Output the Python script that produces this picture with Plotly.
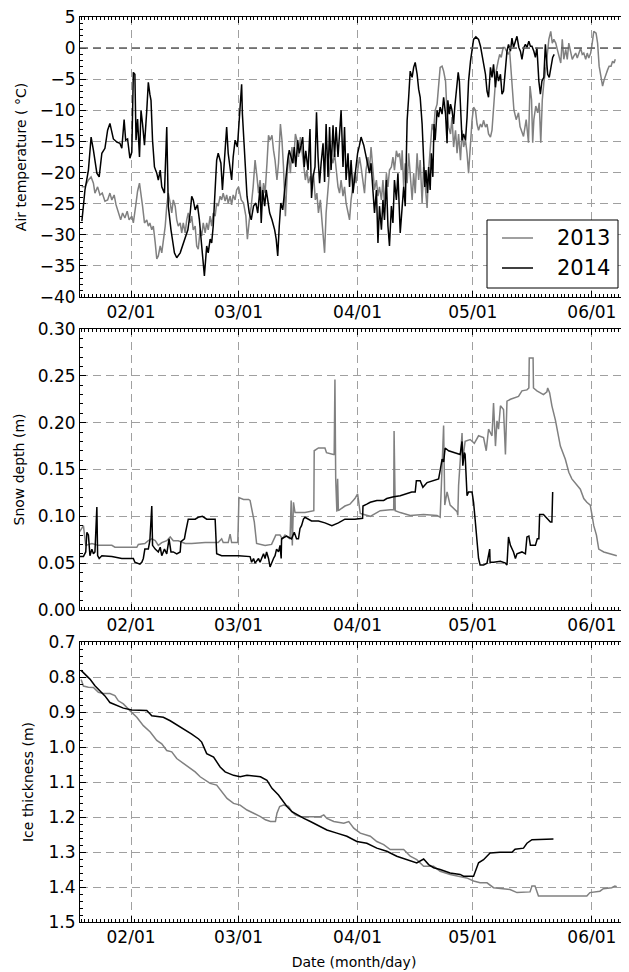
import numpy as np
import pandas as pd
import plotly.graph_objects as go
from plotly.subplots import make_subplots

# x values are day of year (2013 calendar used for both winters)

# ---- air temperature (deg C) ----
air_doy_2013 = [19.15, 20.0, 20.9, 21.6, 22.2, 22.6, 23.3, 23.9, 24.5, 25.2, 25.9, 26.5, 27.0, 27.6, 28.1,
                28.7, 29.3, 29.8, 30.4, 31.0, 31.5, 32.2, 32.6, 33.2, 33.7, 34.2, 34.6, 35.0, 35.5, 36.1,
                36.5, 36.9, 37.4, 37.8, 38.3, 38.7, 39.1, 39.6, 40.0, 40.4, 40.9, 41.3, 41.7, 42.2, 42.6,
                43.0, 43.5, 43.9, 44.3, 44.8, 45.2, 45.6, 46.1, 46.5, 46.9, 47.4, 47.8, 48.2, 48.7, 49.1,
                49.5, 50.0, 50.4, 50.8, 51.3, 51.7, 52.1, 52.6, 53.0, 53.4, 53.9, 54.3, 54.7, 55.2, 55.6,
                56.0, 56.5, 56.9, 57.3, 57.8, 58.2, 58.6, 59.1, 59.5, 60.0, 60.7, 61.3, 61.9, 62.3, 62.8,
                63.3, 63.8, 64.3, 64.8, 65.2, 65.6, 66.1, 66.5, 66.9, 67.4, 67.8, 68.2, 68.7, 69.1, 69.5,
                70.0, 70.4, 70.9, 71.3, 71.7, 72.2, 72.6, 73.0, 73.5, 73.9, 74.3, 74.8, 75.2, 75.6, 76.1,
                76.5, 76.9, 77.4, 77.8, 78.2, 78.7, 79.1, 79.5, 80.0, 80.4, 80.8, 81.3, 81.7, 82.1, 82.4,
                82.8, 83.3, 83.7, 84.1, 84.6, 85.0, 85.4, 85.9, 86.3, 86.7, 87.2, 87.6, 88.0, 88.5, 88.9,
                89.3, 89.8, 90.2, 90.6, 91.1, 91.5, 91.9, 92.4, 92.8, 93.2, 93.7, 94.1, 94.5, 95.0, 95.4,
                95.9, 96.3, 96.7, 97.2, 97.6, 98.0, 98.5, 98.9, 99.3, 99.8, 100.2, 100.6, 101.1, 101.5, 101.9,
                102.4, 102.6, 103.0, 103.4, 103.9, 104.3, 104.7, 105.2, 105.6, 106.0, 106.5, 106.9, 107.3, 107.8,
                108.2, 108.6, 109.1, 109.5, 109.9, 110.4, 110.8, 111.2, 111.7, 112.1, 112.5, 113.0, 113.4, 113.9,
                114.3, 114.7, 115.2, 115.6, 116.0, 116.5, 116.9, 117.3, 117.8, 118.2, 118.6, 119.1, 119.5, 119.9,
                120.4, 120.8, 121.2, 121.7, 122.1, 122.5, 123.0, 123.4, 123.8, 124.3, 124.7, 125.1, 125.6, 126.0,
                126.3, 126.6, 126.9, 127.1, 127.6, 128.0, 128.4, 128.9, 129.3, 129.7, 130.2, 130.6, 131.7, 132.3,
                132.9, 133.3, 134.2, 134.9, 135.5, 135.9, 136.3, 136.6, 136.9, 137.4, 137.9, 138.3, 138.7, 139.1,
                139.5, 140.1, 140.4, 140.8, 141.3, 141.7, 142.1, 142.6, 143.0, 143.4, 143.9, 144.3, 144.7, 145.2,
                145.6, 146.0, 146.5, 146.9, 147.3, 147.8, 148.2, 148.6, 149.1, 149.5, 149.9, 150.4, 150.8, 151.2,
                151.7, 152.1, 152.5, 153.1, 153.5, 153.9, 154.4, 154.8, 155.2, 155.7, 156.1, 156.5, 157.0, 157.4,
                157.8, 158.1]
air_2013 = [-22.3, -22.3, -21.2, -20.7, -21.7, -23.3, -22.3, -23.6, -23.3, -24.6, -24.4, -23.3, -24.4, -23.6, -25.2,
            -26.5, -27.6, -26.5, -27.3, -26.2, -27.6, -27.0, -28.1, -25.4, -23.0, -21.7, -23.3, -25.4, -28.1, -27.6,
            -28.6, -28.1, -29.2, -28.6, -31.3, -33.9, -33.4, -31.8, -32.9, -31.3, -28.6, -25.4, -23.3, -24.9, -26.5,
            -24.4, -25.4, -27.6, -28.6, -28.1, -29.7, -28.1, -29.7, -27.6, -26.5, -28.1, -27.0, -29.2, -28.6, -31.8,
            -32.3, -29.2, -30.2, -28.1, -29.7, -28.1, -29.2, -27.0, -28.6, -26.5, -27.0, -24.9, -25.4, -23.8, -24.4,
            -23.3, -24.6, -23.6, -24.9, -23.8, -25.2, -23.6, -24.4, -22.8, -22.3, -24.4, -24.9, -27.0, -30.7, -27.6,
            -25.4, -22.3, -18.0, -20.7, -23.3, -21.2, -24.4, -21.7, -23.3, -18.5, -14.0, -14.8, -14.0, -16.4, -18.0,
            -21.2, -18.5, -12.2, -14.8, -19.1, -27.0, -21.2, -16.9, -20.1, -15.9, -18.5, -13.8, -14.8, -17.5, -14.3,
            -16.9, -18.5, -21.2, -19.6, -21.7, -20.6, -22.3, -20.1, -24.4, -23.3, -26.5, -24.4, -27.6, -30.7, -32.9,
            -26.5, -22.3, -19.6, -17.5, -18.5, -16.9, -19.6, -22.3, -23.3, -21.2, -23.8, -22.3, -24.9, -26.5, -27.6,
            -24.4, -22.3, -20.1, -21.7, -19.6, -17.5, -19.1, -21.2, -23.3, -19.6, -17.5, -19.6, -15.9, -19.6, -22.8,
            -21.2, -23.8, -22.3, -24.4, -21.2, -25.4, -20.1, -22.3, -19.6, -19.1, -17.5, -19.6, -16.5, -17.5, -16.9,
            -19.6, -16.4, -22.3, -18.5, -21.7, -16.9, -20.7, -24.4, -20.1, -23.3, -16.9, -21.2, -18.0, -24.9,
            -19.1, -22.3, -25.7, -19.6, -16.5, -12.2, -13.2, -10.0, -9.0, -6.3, -3.1, -2.9, -3.7, -5.3,
            -10.6, -12.7, -13.8, -11.1, -15.9, -13.2, -16.9, -13.8, -18.0, -13.2, -15.9, -14.8, -16.9, -20.1,
            -14.8, -11.6, -9.5, -10.0, -12.2, -13.2, -12.2, -12.7, -11.6, -12.7, -12.2, -13.8, -14.3, -13.2,
            -10.6, -7.9, -5.3, -3.7, -2.1, -1.0, -1.5, 0.1, 0.1, -0.5, -1.0, -0.5, -9.9, -11.5,
            -10.4, -12.6, -14.2, -11.5, -15.2, -6.1, -8.3, -15.2, -11.5, -9.3, -10.4, -8.8, -15.2, -8.3,
            -5.6, -2.9, -1.3, 1.4, 2.7, 0.8, 1.4, 0.8, -0.2, -1.3, -2.4, 1.4, -1.8, -0.2,
            -1.8, 0.8, -0.8, -1.8, -1.3, -0.8, -1.6, -0.8, 0.0, -1.0, -0.8, -1.8, -0.8, -1.6,
            -0.8, 0.8, 2.7, 2.4, 0.8, -2.9, -4.5, -6.1, -5.1, -4.0, -3.5, -2.9, -2.9, -2.1,
            -2.4, -1.8]

air_doy_2014 = [19.2, 20.0, 20.9, 21.6, 22.2, 23.1, 23.7, 24.4, 25.2, 25.9, 26.5, 27.4, 28.3, 29.1, 29.6,
                30.2, 30.6, 31.1, 31.7, 32.2, 32.6, 33.0, 33.3, 33.7, 34.2, 34.6, 35.0, 35.5, 36.1, 36.5,
                36.9, 37.2, 37.6, 38.1, 38.7, 39.1, 39.6, 40.0, 40.7, 41.3, 41.7, 42.4, 43.3, 43.9, 44.8,
                45.4, 46.1, 46.8, 47.4, 47.8, 48.2, 48.7, 49.3, 49.8, 50.4, 51.1, 51.7, 52.1, 52.6, 53.0,
                53.4, 53.9, 54.3, 54.7, 55.4, 55.8, 56.3, 56.9, 57.3, 57.8, 58.2, 58.6, 59.1, 59.7, 60.1,
                60.8, 61.0, 61.6, 62.2, 62.8, 63.3, 63.9, 64.5, 65.0, 65.6, 65.9, 66.3, 66.8, 67.2, 67.6,
                68.1, 68.7, 69.4, 69.8, 70.2, 70.6, 71.0, 71.5, 71.9, 72.3, 72.8, 73.2, 73.6, 74.1, 74.5,
                74.9, 75.4, 75.8, 76.2, 76.7, 77.1, 77.5, 78.1, 78.6, 79.0, 79.4, 79.9, 80.3, 80.7, 81.1,
                81.5, 82.0, 82.4, 82.8, 83.3, 83.7, 84.1, 84.6, 85.0, 85.4, 85.9, 86.3, 86.7, 87.2, 87.6,
                88.0, 88.5, 88.9, 89.3, 89.8, 90.4, 91.0, 91.5, 91.9, 92.6, 93.2, 93.7, 94.1, 94.5, 95.0,
                95.4, 95.9, 96.3, 96.7, 97.2, 97.6, 98.0, 98.5, 98.9, 99.3, 99.8, 100.2, 100.6, 101.1, 101.5,
                102.1, 102.6, 103.0, 103.4, 103.9, 104.3, 104.7, 105.2, 105.6, 106.0, 106.5, 106.9, 107.3, 107.8,
                108.2, 108.5, 108.8, 109.2, 109.5, 109.9, 110.2, 110.6, 110.9, 111.2, 111.7, 112.1, 112.5, 113.0,
                113.4, 113.9, 114.3, 114.5, 114.9, 115.2, 115.6, 116.0, 116.3, 116.7, 117.2, 117.5, 117.8, 118.2,
                118.6, 119.1, 119.5, 119.9, 120.4, 120.8, 121.2, 121.8, 122.5, 123.0, 123.4, 123.8, 124.3, 124.7,
                125.1, 125.6, 126.0, 126.4, 126.9, 127.3, 127.7, 128.2, 128.6, 129.0, 129.5, 129.9, 130.3, 130.8,
                131.2, 131.6, 132.1, 132.5, 133.0, 133.4, 133.8, 134.3, 134.7, 135.1, 135.6, 136.0, 136.4, 136.9,
                137.3, 137.7, 138.2, 138.6, 139.0, 139.5, 139.9, 140.2, 140.5, 140.9, 141.4, 141.8, 142.2]
air_2014 = [-27.8, -22.8, -19.6, -14.3, -16.4, -20.1, -20.7, -16.9, -16.1, -13.2, -12.1, -14.6, -15.1, -15.3, -16.1,
            -11.5, -14.8, -14.6, -17.7, -16.7, -3.9, -4.2, -14.8, -11.4, -17.5, -10.0, -12.2, -15.6, -10.0, -5.5,
            -7.4, -8.4, -14.8, -19.1, -20.1, -21.2, -19.6, -22.3, -23.3, -12.7, -25.4, -29.2, -32.9, -33.7, -32.9,
            -31.8, -30.7, -29.2, -26.5, -23.8, -24.4, -26.0, -25.2, -27.6, -31.8, -36.6, -31.8, -32.9, -30.7, -31.3,
            -28.6, -23.3, -18.0, -16.9, -18.5, -22.8, -18.5, -12.7, -16.9, -19.1, -21.2, -17.5, -14.8, -15.9, -12.2,
            -5.8, -10.6, -18.0, -23.8, -26.5, -27.6, -25.4, -24.9, -26.5, -22.3, -28.1, -22.8, -25.4, -22.8, -24.4,
            -26.5, -27.6, -29.2, -30.7, -33.4, -28.6, -24.9, -26.0, -23.3, -20.7, -18.0, -16.4, -17.5, -18.5, -15.9,
            -19.1, -14.8, -16.9, -15.9, -14.3, -19.1, -16.5, -19.6, -13.0, -24.1, -20.7, -19.1, -10.3, -17.5, -21.7,
            -18.5, -15.3, -21.5, -12.2, -20.7, -12.7, -19.6, -12.4, -17.5, -12.7, -17.5, -13.8, -10.0, -19.1, -12.7,
            -21.2, -16.9, -22.3, -18.0, -23.3, -19.6, -16.9, -15.6, -14.3, -15.6, -17.5, -18.5, -20.1, -18.5, -22.3,
            -26.5, -22.8, -31.3, -25.4, -29.2, -24.4, -27.6, -21.2, -28.6, -31.8, -25.4, -28.1, -21.2, -24.4, -20.1,
            -29.7, -24.9, -22.3, -25.4, -11.6, -7.9, -3.7, -4.7, -3.1, -2.3, -4.2, -6.6, -7.9, -12.2,
            -16.9, -22.3, -19.6, -23.3, -19.1, -22.8, -16.9, -20.7, -12.2, -14.8, -10.0, -11.1, -9.5, -10.6,
            -7.9, -10.6, -15.3, -8.4, -10.6, -9.0, -10.0, -12.2, -9.5, -7.4, -3.9, -5.3, -10.0, -14.8,
            -13.8, -14.8, -11.1, -5.3, -2.1, -0.5, 1.4, 1.8, 1.4, 0.3, -1.0, -2.1, -4.2, -6.9,
            -7.9, -3.1, -4.7, -2.6, -6.3, -3.7, -5.3, -4.2, -7.4, -6.9, -2.6, -0.5, 0.6, -0.5,
            1.6, 0.1, 1.1, 1.9, 0.1, -0.5, -1.8, 0.1, 0.6, 0.1, 1.1, 0.3, 0.3, -0.5,
            -1.5, 0.1, -5.3, -7.4, -5.3, -4.7, 0.6, -2.6, -4.2, -4.7, -3.1, -1.5, -1.0]

# ---- snow depth (m) ----
snow_doy_2013 = [18.5, 19.6, 20.2, 21.8, 23.5, 27.0, 27.8, 33.5, 33.9, 35.6, 36.5, 37.4, 38.3, 39.1, 40.0,
                 41.3, 42.2, 43.0, 44.3, 46.1, 47.8, 51.3, 54.7, 55.6, 56.0, 57.3, 57.8, 58.2, 59.8, 60.1,
                 61.3, 62.6, 63.0, 63.4, 64.1, 64.7, 66.9, 68.6, 69.7, 70.8, 71.4, 72.1, 73.4, 73.7, 74.0,
                 74.3, 74.7, 77.3, 79.0, 79.6, 79.7, 80.8, 82.5, 82.9, 84.7, 84.9, 85.1, 85.3, 85.6, 85.8,
                 86.0, 87.7, 89.0, 90.3, 91.0, 91.7, 94.3, 96.9, 99.5, 100.4, 100.5, 100.8, 102.1, 104.7,
                 108.2, 111.7, 112.5, 113.0, 113.4, 113.7, 114.3, 115.1, 116.9, 117.1, 117.3, 118.2, 118.4,
                 119.0, 120.3, 121.4, 122.5, 123.8, 124.5, 125.1, 126.0, 126.4, 126.9, 127.3, 127.7, 128.2,
                 129.0, 129.5, 129.9, 130.8, 132.1, 132.9, 133.8, 135.1, 135.6, 135.7, 136.7, 136.8, 137.7,
                 139.4, 140.3, 140.5, 141.0, 141.6, 142.5, 143.3, 143.8, 145.1, 146.0, 146.8, 148.1, 149.0,
                 149.9, 150.7, 151.6, 152.2, 152.5, 153.2, 153.8, 155.1, 156.8, 158.5]
snow_2013 = [0.083, 0.090, 0.069, 0.071, 0.069, 0.069, 0.067, 0.067, 0.070, 0.071, 0.074, 0.076, 0.074, 0.069, 0.072,
             0.074, 0.078, 0.074, 0.074, 0.071, 0.071, 0.072, 0.072, 0.076, 0.072, 0.072, 0.081, 0.072, 0.072, 0.120,
             0.118, 0.118, 0.117, 0.108, 0.094, 0.071, 0.069, 0.070, 0.080, 0.080, 0.076, 0.080, 0.076, 0.117, 0.069,
             0.115, 0.104, 0.104, 0.106, 0.106, 0.170, 0.173, 0.173, 0.168, 0.166, 0.166, 0.246, 0.140, 0.105, 0.140,
             0.106, 0.111, 0.113, 0.119, 0.124, 0.103, 0.100, 0.106, 0.107, 0.107, 0.191, 0.106, 0.104, 0.101,
             0.102, 0.101, 0.099, 0.150, 0.197, 0.112, 0.126, 0.112, 0.105, 0.101, 0.133, 0.189, 0.161,
             0.180, 0.182, 0.178, 0.186, 0.184, 0.170, 0.193, 0.186, 0.221, 0.175, 0.202, 0.193, 0.218,
             0.214, 0.166, 0.223, 0.225, 0.227, 0.228, 0.234, 0.235, 0.237, 0.269, 0.269, 0.237, 0.234,
             0.230, 0.233, 0.237, 0.232, 0.218, 0.203, 0.186, 0.175, 0.161, 0.147, 0.140, 0.134, 0.129,
             0.119, 0.115, 0.112, 0.097, 0.090, 0.080, 0.065, 0.062, 0.060, 0.058]

snow_doy_2014 = [18.5, 19.6, 20.2, 20.5, 20.9, 21.3, 21.8, 22.2, 22.6, 23.1, 23.3, 23.7, 24.4, 27.0, 29.6,
                 32.6, 33.0, 34.3, 34.8, 35.2, 35.6, 36.5, 36.9, 37.4, 37.6, 38.3, 39.1, 39.6, 40.0, 40.7,
                 41.3, 41.9, 42.4, 43.0, 43.9, 44.8, 45.0, 45.9, 46.2, 46.9, 48.7, 49.5, 50.6, 51.7, 53.9,
                 54.3, 55.6, 60.0, 63.0, 63.4, 63.9, 64.3, 65.2, 65.6, 66.5, 66.9, 67.3, 67.8, 68.2, 68.6,
                 69.1, 69.5, 69.9, 70.4, 70.8, 71.1, 71.2, 72.5, 73.8, 74.5, 75.1, 75.6, 76.0, 76.4, 76.9,
                 77.3, 79.0, 80.8, 82.5, 84.3, 86.0, 87.7, 90.3, 92.3, 92.4, 93.4, 94.3, 96.0, 97.8, 98.6,
                 100.4, 102.1, 103.8, 105.1, 106.0, 106.3, 107.3, 108.0, 109.1, 110.8, 112.1, 112.5, 113.0,
                 113.4, 113.8, 114.7, 116.0, 116.9, 117.7, 118.2, 118.4, 118.8, 119.0, 119.5, 119.9, 120.8,
                 121.2, 121.6, 122.1, 122.5, 122.9, 123.8, 124.7, 125.4, 125.5, 126.4, 128.2, 129.5, 129.9,
                 130.3, 130.8, 131.6, 132.1, 132.5, 133.8, 134.7, 135.1, 135.6, 136.0, 137.3, 137.8, 138.2,
                 138.4, 139.4, 140.3, 141.2, 141.6, 141.8]
snow_2014 = [0.057, 0.057, 0.062, 0.083, 0.080, 0.058, 0.065, 0.060, 0.062, 0.110, 0.058, 0.055, 0.058, 0.057, 0.055,
             0.055, 0.051, 0.049, 0.051, 0.055, 0.065, 0.065, 0.074, 0.111, 0.069, 0.065, 0.062, 0.067, 0.058, 0.065,
             0.060, 0.076, 0.062, 0.062, 0.060, 0.062, 0.073, 0.076, 0.083, 0.097, 0.097, 0.099, 0.100, 0.097, 0.097,
             0.060, 0.058, 0.058, 0.057, 0.051, 0.055, 0.050, 0.055, 0.051, 0.060, 0.055, 0.062, 0.055, 0.046, 0.051,
             0.055, 0.058, 0.065, 0.062, 0.069, 0.055, 0.076, 0.079, 0.076, 0.083, 0.076, 0.076, 0.087, 0.090, 0.097,
             0.099, 0.095, 0.095, 0.093, 0.090, 0.093, 0.097, 0.097, 0.098, 0.111, 0.113, 0.115, 0.117, 0.117, 0.119,
             0.121, 0.122, 0.124, 0.126, 0.126, 0.138, 0.138, 0.131, 0.136, 0.138, 0.140, 0.149, 0.161,
             0.158, 0.173, 0.170, 0.168, 0.167, 0.166, 0.180, 0.154, 0.168, 0.166, 0.122, 0.126, 0.126,
             0.115, 0.097, 0.069, 0.055, 0.048, 0.048, 0.050, 0.065, 0.051, 0.051, 0.052, 0.050, 0.048,
             0.078, 0.069, 0.062, 0.055, 0.060, 0.062, 0.060, 0.078, 0.079, 0.069, 0.069, 0.076, 0.076,
             0.102, 0.102, 0.098, 0.094, 0.094, 0.126]

# ---- ice thickness (m) ----
ice_doy_2013 = [19.0, 19.6, 20.9, 22.2, 23.5, 24.8, 26.5, 27.8, 28.7, 30.0, 31.7, 33.5, 35.2, 37.0, 38.7,
                40.0, 41.3, 42.6, 43.9, 45.7, 47.4, 48.7, 50.0, 51.3, 52.6, 54.3, 55.7, 57.0, 58.7, 60.4,
                62.2, 63.9, 65.7, 67.0, 68.3, 69.6, 70.0, 70.7, 71.7, 73.0, 73.9, 74.8, 76.1, 81.3, 82.2,
                83.0, 84.8, 87.4, 88.7, 90.0, 91.7, 94.3, 96.0, 97.8, 99.5, 103.0, 104.7, 106.4, 108.2,
                110.8, 112.5, 115.1, 117.7, 119.4, 121.2, 122.9, 124.7, 126.4, 130.7, 132.5, 135.9, 136.4,
                137.2, 138.1, 142.9, 150.7, 151.5, 154.1, 155.0, 157.2, 158.0, 158.5]
ice_2013 = [0.807, 0.826, 0.829, 0.830, 0.844, 0.847, 0.847, 0.853, 0.868, 0.877, 0.896, 0.915, 0.939, 0.957, 0.981,
            0.991, 1.010, 1.014, 1.033, 1.048, 1.062, 1.071, 1.085, 1.095, 1.104, 1.109, 1.128, 1.147, 1.161, 1.166,
            1.180, 1.189, 1.199, 1.208, 1.213, 1.213, 1.189, 1.170, 1.166, 1.170, 1.185, 1.194, 1.199, 1.199, 1.194,
            1.204, 1.213, 1.218, 1.213, 1.232, 1.246, 1.255, 1.270, 1.279, 1.293, 1.293, 1.312, 1.322, 1.341,
            1.341, 1.355, 1.364, 1.369, 1.374, 1.383, 1.388, 1.388, 1.402, 1.407, 1.416, 1.414, 1.397,
            1.397, 1.426, 1.426, 1.426, 1.416, 1.412, 1.405, 1.402, 1.397, 1.399]

ice_doy_2014 = [19.0, 20.0, 21.3, 22.6, 23.9, 25.2, 26.5, 28.3, 30.0, 32.2, 36.1, 37.4, 40.4, 42.2, 43.9,
                45.7, 47.8, 49.6, 50.4, 51.7, 53.5, 55.2, 56.5, 58.7, 60.4, 62.2, 63.9, 65.7, 67.4, 68.7,
                70.4, 71.7, 72.6, 73.9, 75.2, 77.0, 78.7, 80.4, 83.0, 85.6, 88.2, 90.8, 93.4, 96.0, 98.6,
                101.2, 103.8, 106.4, 108.2, 109.5, 110.8, 112.5, 115.1, 117.7, 118.6, 121.2, 122.5, 123.8,
                125.5, 128.1, 131.2, 132.0, 134.2, 135.1, 136.4, 139.4, 142.0]
ice_2014 = [0.781, 0.792, 0.806, 0.825, 0.840, 0.854, 0.873, 0.882, 0.889, 0.894, 0.896, 0.911, 0.915, 0.925, 0.936,
            0.948, 0.963, 0.977, 0.986, 1.019, 1.029, 1.057, 1.071, 1.081, 1.085, 1.081, 1.083, 1.085, 1.095, 1.118,
            1.137, 1.156, 1.170, 1.185, 1.194, 1.204, 1.213, 1.222, 1.237, 1.246, 1.255, 1.270, 1.275, 1.289, 1.298,
            1.312, 1.322, 1.331, 1.320, 1.336, 1.345, 1.350, 1.360, 1.364, 1.369, 1.369, 1.331, 1.322,
            1.303, 1.301, 1.301, 1.292, 1.289, 1.275, 1.265, 1.263, 1.263]

years = ["2013", "2014"]
colors = {"2013": "#808080", "2014": "black"}


def to_dates(doy):
    return pd.Timestamp("2013-01-01") + pd.to_timedelta(np.array(doy) - 1.0, unit="D")


font = "DejaVu Sans"
fig = make_subplots(rows=3, cols=1, vertical_spacing=0.02)

panels = [
    (1, {"2013": (air_doy_2013, air_2013), "2014": (air_doy_2014, air_2014)}),
    (2, {"2013": (snow_doy_2013, snow_2013), "2014": (snow_doy_2014, snow_2014)}),
    (3, {"2013": (ice_doy_2013, ice_2013), "2014": (ice_doy_2014, ice_2014)}),
]
for row, series in panels:
    for yr in years:
        d, v = series[yr]
        fig.add_trace(go.Scatter(x=to_dates(d), y=v, mode="lines", name=yr,
                                 line=dict(color=colors[yr], width=1.5),
                                 showlegend=False), row=row, col=1)

# page has an 8px body margin, so the figure is drawn 8px smaller and
# every page-pixel position below is shifted by OFF
OFF = 8
W, H = 629 - OFF, 972 - OFF
top, bot, left, right = 17 - OFF, 50, 80 - OFF, 1
ph = H - top - bot
pw = W - left - right


def fy(y):
    return 1 - (y - OFF - top) / ph


def fx(x):
    return (x - OFF - left) / pw


domains = [[fy(297), fy(17)], [fy(610), fy(329)], [fy(922), fy(642)]]

axis_common = dict(showline=True, linecolor="black", linewidth=1, mirror="allticks",
                   ticks="inside", tickcolor="black", tickwidth=1, ticklen=6,
                   showgrid=True, gridcolor="#a0a0a0", gridwidth=1, griddash="8px,5px",
                   zeroline=False, automargin=False, ticklabeloverflow="allow",
                   tickfont=dict(family=font, size=17, color="black"))

for i in range(3):
    fig.update_xaxes(row=i + 1, col=1, range=["2013-01-18 17:00", "2013-06-10 10:00"],
                     tickmode="linear", tick0="2013-02-01", dtick="M1", tickformat="%m/%d",
                     minor=dict(tick0="2013-01-01", dtick=86400000, ticks="inside", ticklen=3,
                                tickcolor="black", showgrid=False),
                     **axis_common)
    fig.update_yaxes(row=i + 1, col=1, domain=domains[i], **axis_common)

title_font = dict(family=font, size=14, color="black")
fig.update_xaxes(row=3, col=1, title=dict(text="Date (month/day)", font=title_font, standoff=10))

fig.update_yaxes(row=1, col=1, range=[-40, 5], tickmode="linear", tick0=-40, dtick=5,
                 minor=dict(dtick=1, ticks="inside", ticklen=3, tickcolor="black", showgrid=False),
                 title=dict(text="Air temperature ( °C)", font=title_font, standoff=9))
fig.update_yaxes(row=2, col=1, range=[0, 0.30], tickmode="linear", tick0=0, dtick=0.05, tickformat=".2f",
                 minor=dict(dtick=0.01, ticks="inside", ticklen=3, tickcolor="black", showgrid=False),
                 title=dict(text="Snow depth (m)", font=title_font, standoff=9))
fig.update_yaxes(row=3, col=1, range=[1.5, 0.7], tickmode="linear", tick0=0.7, dtick=0.1, tickformat=".1f",
                 minor=dict(dtick=0.02, ticks="inside", ticklen=3, tickcolor="black", showgrid=False),
                 title=dict(text="Ice thickness (m)", font=title_font, standoff=11))

# freezing line
fig.add_hline(y=0, line=dict(color="#606060", width=1.5, dash="8px,5px"), row=1, col=1)

# legend box (top panel, lower right)
fig.add_shape(type="rect", xref="paper", yref="paper", x0=fx(487), x1=fx(618), y0=fy(288), y1=fy(220),
              line=dict(color="black", width=1), fillcolor="white", layer="above")
for yr, ypix in zip(years, [238, 268]):
    fig.add_shape(type="line", xref="paper", yref="paper", x0=fx(502), x1=fx(533), y0=fy(ypix), y1=fy(ypix),
                  line=dict(color=colors[yr], width=1.5), layer="above")
    fig.add_annotation(xref="paper", yref="paper", x=fx(555), y=fy(ypix), text=yr, showarrow=False,
                       xanchor="left", yanchor="middle", font=dict(family=font, size=21, color="black"))

fig.update_layout(
    width=W, height=H,
    margin=dict(l=left, r=right, t=top, b=bot),
    plot_bgcolor="white", paper_bgcolor="white",
    font=dict(family=font, color="black"),
    showlegend=False,
)

fig.write_html("out.html")
